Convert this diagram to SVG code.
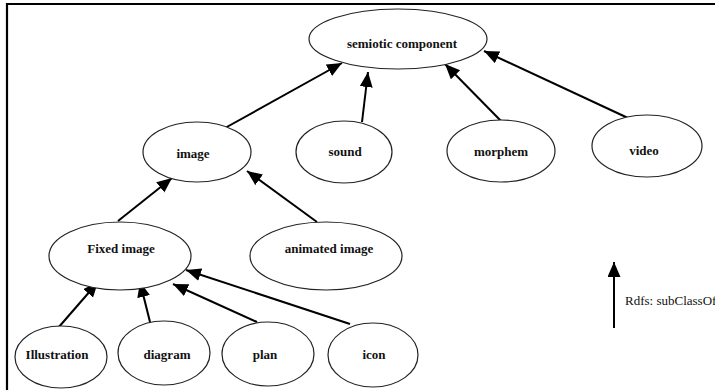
<svg xmlns="http://www.w3.org/2000/svg" width="715" height="390" viewBox="0 0 715 390">
<defs>
<marker id="ah" markerUnits="userSpaceOnUse" markerWidth="16" markerHeight="14" refX="15" refY="6.5" orient="auto">
<path d="M0,0 L15,6.5 L0,13 z" fill="#000"/>
</marker>
<style>
.n ellipse{fill:#fff;stroke:#222;stroke-width:1.2}
.n text{font-family:"Liberation Serif","Times New Roman",serif;font-weight:bold;font-size:13px;fill:#111;text-anchor:middle}
.e line{stroke:#000;stroke-width:2;marker-end:url(#ah)}
.lg{font-family:"Liberation Serif","Times New Roman",serif;font-size:13px;fill:#111}
</style>
</defs>
<rect width="715" height="390" fill="#fff"/>
<path d="M7,390 V4 H715" fill="none" stroke="#000" stroke-width="2.2"/>
<g id="edges" class="e">
<line x1="225" y1="128" x2="342" y2="63"/>
<line x1="362" y1="122" x2="368" y2="72"/>
<line x1="502" y1="122" x2="445" y2="64"/>
<line x1="628" y1="118" x2="484" y2="51"/>
<line x1="118" y1="221" x2="172" y2="178"/>
<line x1="317" y1="222" x2="247" y2="171"/>
<line x1="58" y1="328" x2="98" y2="282"/>
<line x1="150" y1="322" x2="140" y2="282"/>
<line x1="257" y1="322" x2="173" y2="284"/>
<line x1="350" y1="324" x2="186" y2="270"/>
<line x1="614" y1="328" x2="614" y2="262"/>
</g>
<g id="semiotic" class="n"><ellipse cx="398" cy="39" rx="89" ry="30"/><text x="402" y="48">semiotic component</text></g>
<g id="image" class="n"><ellipse cx="197" cy="152" rx="54" ry="30"/><text x="193" y="158">image</text></g>
<g id="sound" class="n"><ellipse cx="344" cy="152" rx="48" ry="31"/><text x="345" y="156">sound</text></g>
<g id="morphem" class="n"><ellipse cx="501" cy="151" rx="54" ry="31"/><text x="501" y="156">morphem</text></g>
<g id="video" class="n"><ellipse cx="647" cy="146" rx="55" ry="31"/><text x="644" y="155">video</text></g>
<g id="fixed" class="n"><ellipse cx="120" cy="256" rx="71" ry="34"/><text x="121" y="253">Fixed image</text></g>
<g id="animated" class="n"><ellipse cx="326" cy="256" rx="76" ry="34"/><text x="329" y="253">animated image</text></g>
<g id="illustration" class="n"><ellipse cx="61" cy="357" rx="46" ry="31"/><text x="57" y="359">Illustration</text></g>
<g id="diagram" class="n"><ellipse cx="164" cy="353" rx="46" ry="32"/><text x="167" y="359">diagram</text></g>
<g id="plan" class="n"><ellipse cx="268" cy="354" rx="46" ry="32"/><text x="265" y="359">plan</text></g>
<g id="icon" class="n"><ellipse cx="373" cy="355" rx="45" ry="32"/><text x="374" y="359">icon</text></g>
<text class="lg" x="625" y="305">Rdfs: subClassOf</text>
</svg>
